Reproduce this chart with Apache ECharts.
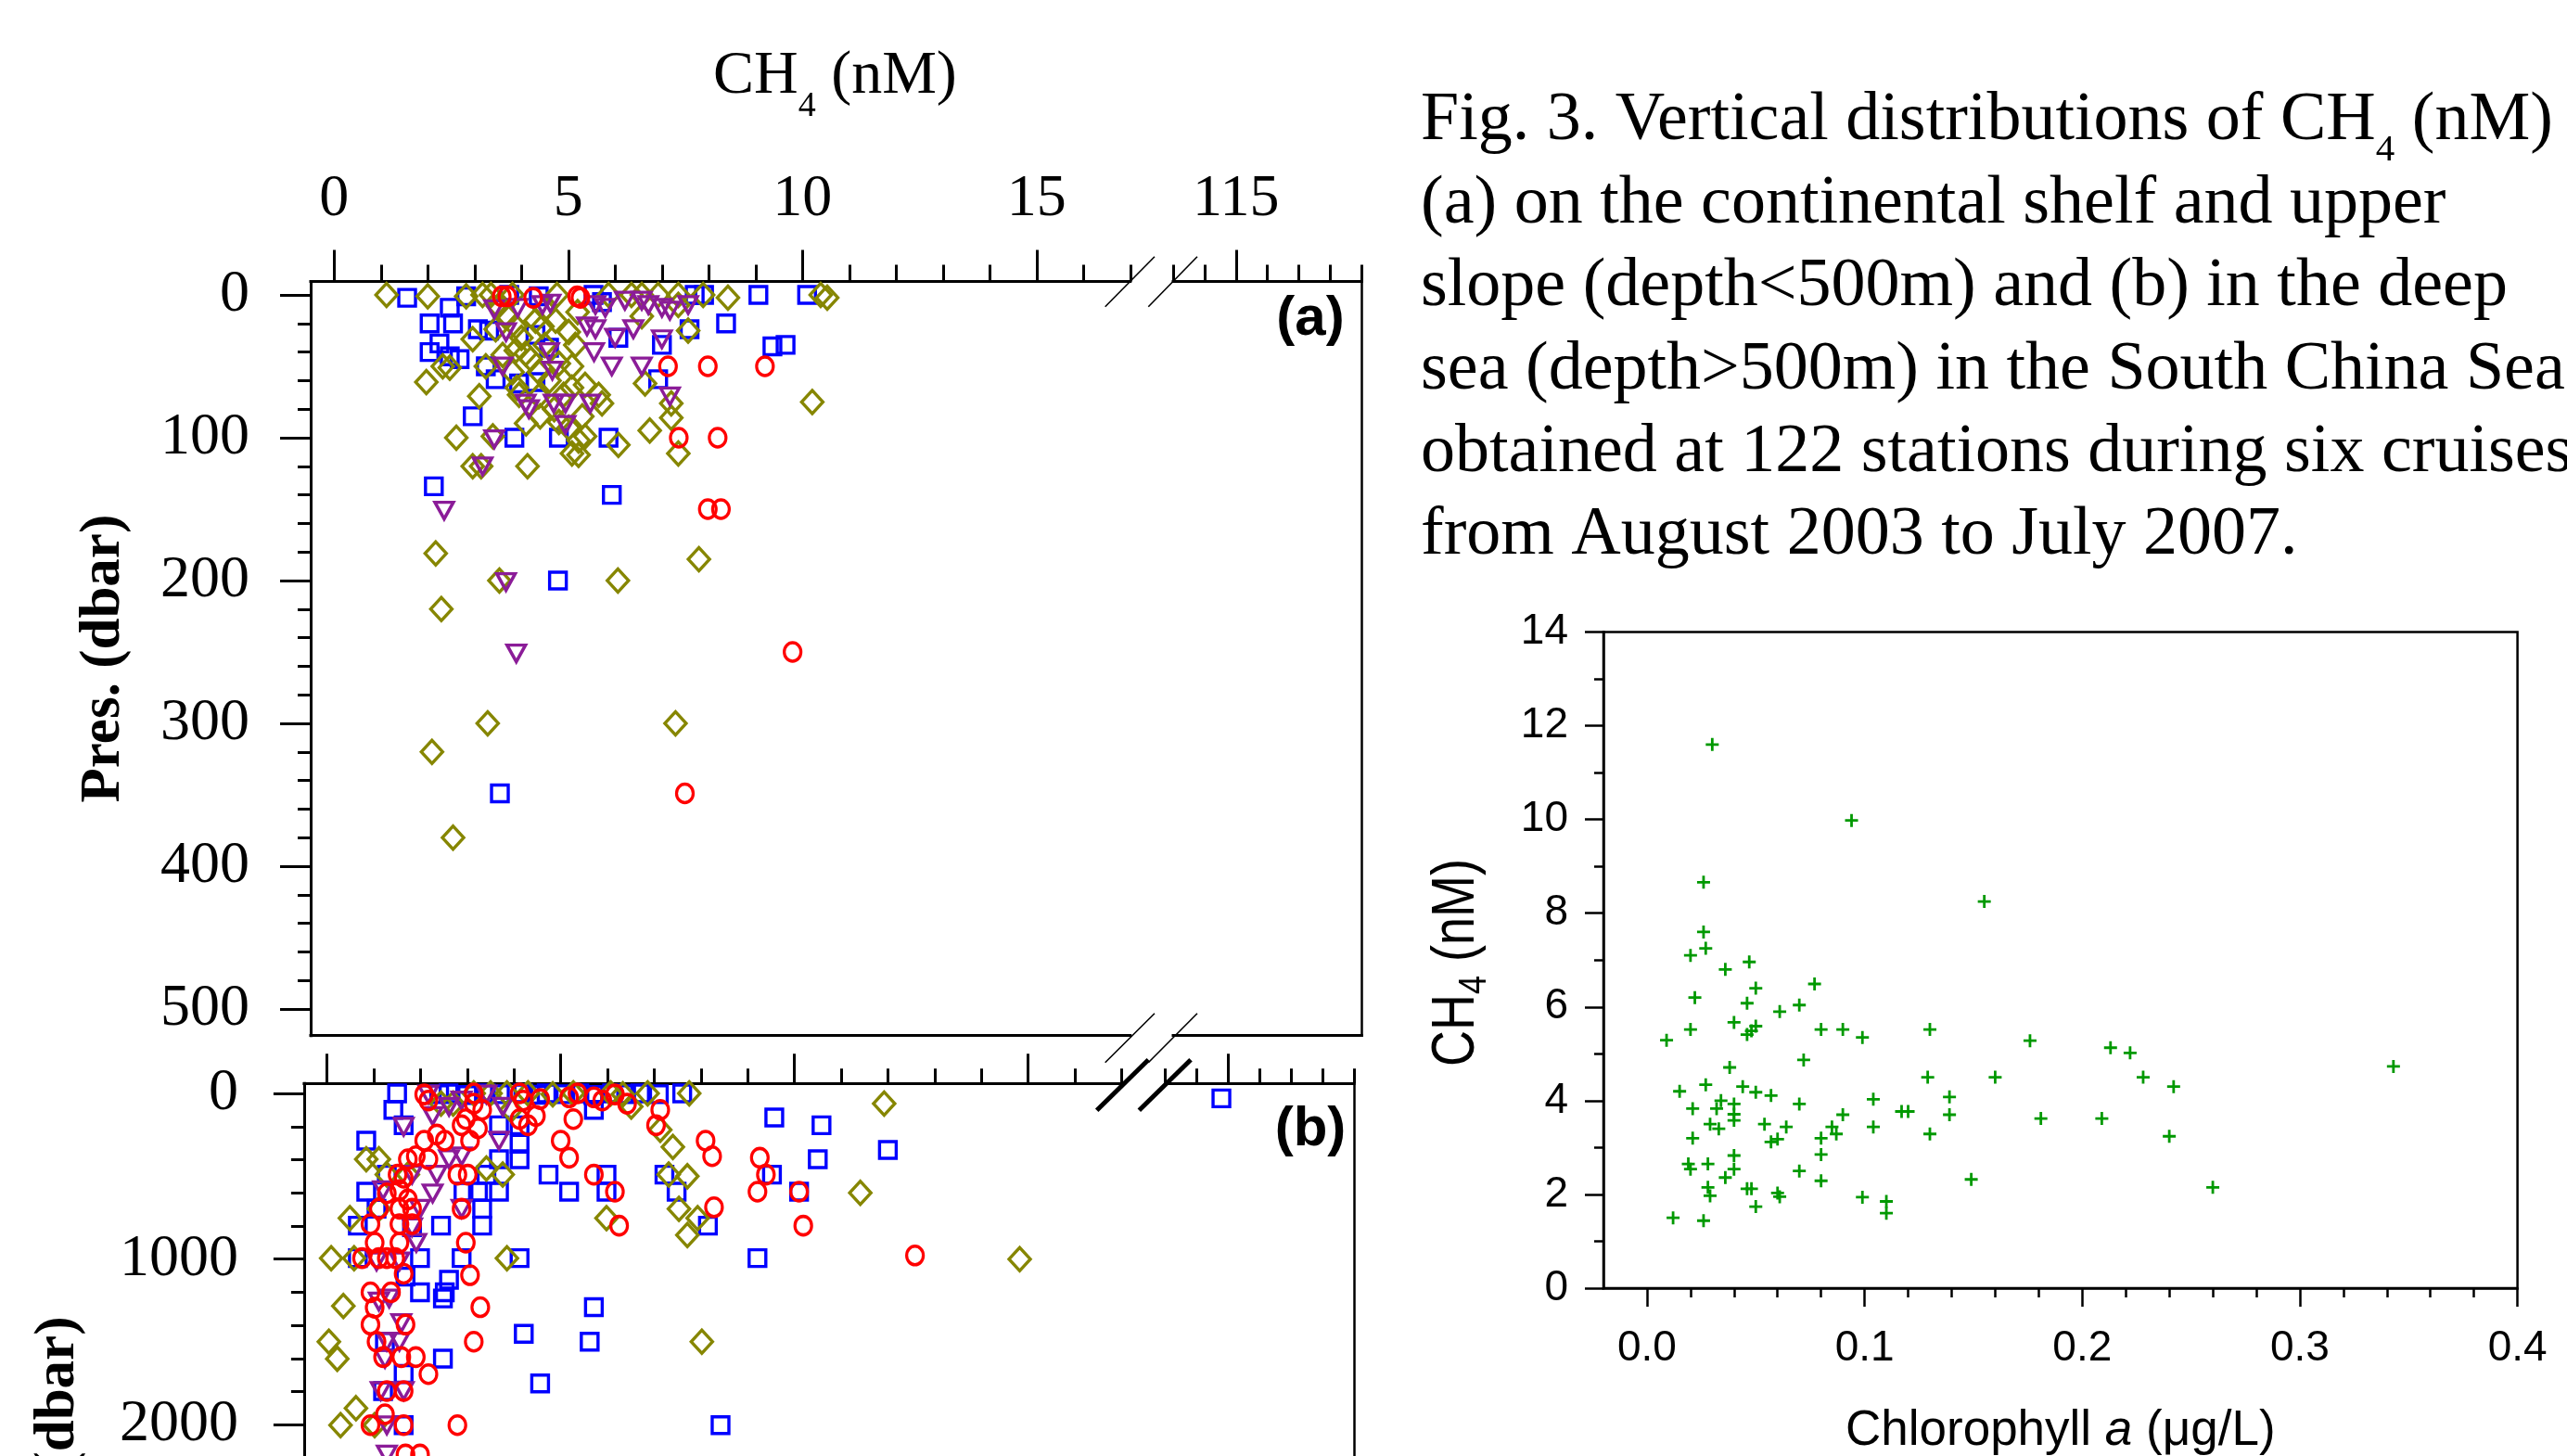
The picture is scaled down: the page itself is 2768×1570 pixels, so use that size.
<!DOCTYPE html>
<html><head><meta charset="utf-8">
<script src="https://cdn.jsdelivr.net/npm/echarts@6/dist/echarts.min.js"></script>
<style>html,body{margin:0;padding:0;background:#fff}#c{width:2768px;height:1570px}</style>
</head><body><div id="c"></div>
<script>
// ================= DATA =================
// shared top axis (CH4, nM) ticks, broken axis
const chXMajor = [0, 5, 10, 15];
const chXMinor = [1, 2, 3, 4, 6, 7, 8, 9, 11, 12, 13, 14, 16, 17];
const chXBrkMajor = [115];
const chXBrkMinor = [113, 114, 116, 117, 118, 119];
// pressure ticks
const aYMajor = [0, 100, 200, 300, 400, 500];
const aYMinor = [20, 40, 60, 80, 120, 140, 160, 180, 220, 240, 260, 280, 320, 340, 360, 380, 420, 440, 460, 480];
const bYMajor = [0, 1000, 2000, 3000, 4000];
const bYMinor = [200, 400, 600, 800, 1200, 1400, 1600, 1800, 2200, 2400, 2600, 2800, 3200, 3400, 3600, 3800, 4200, 4400];
// chlorophyll panel ticks
const chlXMajor = [0, 0.1, 0.2, 0.3, 0.4];
const chlXMinor = [0.02, 0.04, 0.06, 0.08, 0.12, 0.14, 0.16, 0.18, 0.22, 0.24, 0.26, 0.28, 0.32, 0.34, 0.36, 0.38];
const chlYMajor = [0, 2, 4, 6, 8, 10, 12, 14];
const chlYMinor = [1, 3, 5, 7, 9, 11, 13];

// panel (a): [CH4 nM, pressure dbar]
const aSquares = [[1.56,2],[2.47,9],[2.04,20],[2.54,20],[2.25,34],[2.04,40],[2.47,43],[2.68,45],[3.24,50],[3.07,24],[2.82,1],[3.45,59],[3.95,62],[4.3,61],[2.96,85],[3.85,100],[4.8,100],[5.86,100],[2.13,134],[5.93,140],[4.37,1],[5.54,0],[6.07,30],[7.0,35],[6.92,59],[7.7,0],[7.59,24],[8.37,20],[9.06,0],[9.36,36],[9.64,35],[10.1,0],[3.74,0],[4.59,37],[5.72,5],[7.9,0],[4.3,28],[3.31,25],[4.78,200],[3.54,349]];
const aDiamonds = [[1.12,0],[2.0,1],[2.82,1],[3.17,0],[3.35,0],[3.81,0],[4.76,0],[5.86,0],[6.35,0],[6.57,0],[6.92,0],[7.35,0],[7.88,0],[8.41,2],[10.39,0],[10.53,2],[2.96,31],[3.45,24],[3.88,22],[4.3,18],[4.45,22],[4.73,18],[5.01,26],[5.15,35],[3.88,39],[4.09,41],[3.6,42],[4.8,48],[5.08,50],[2.32,50],[2.47,51],[3.24,50],[3.81,54],[4.37,54],[1.97,61],[3.1,71],[3.95,70],[4.37,71],[5.08,65],[5.36,63],[5.65,70],[5.72,76],[6.64,62],[7.2,76],[7.2,86],[7.56,25],[10.21,75],[4.8,89],[5.01,93],[2.61,100],[3.39,99],[5.22,102],[5.36,99],[6.07,105],[6.74,95],[7.35,111],[5.08,111],[5.22,112],[2.96,120],[3.14,120],[4.13,120],[6.57,15],[7.35,7],[4.0,30],[4.5,35],[4.2,45],[4.6,60],[3.9,65],[4.4,85],[4.7,80],[4.1,90],[5.3,85],[4.9,70],[3.7,15],[5.2,12],[4.5,10],[3.5,8],[2.17,181],[7.79,185],[3.53,200],[6.06,200],[2.29,220],[3.28,300],[7.29,300],[2.09,320],[2.54,380]];
const aTriangles = [[3.42,10],[3.92,9],[4.45,7],[4.62,6],[5.58,7],[5.79,9],[6.21,4],[6.57,4],[6.71,7],[7.0,9],[7.17,11],[7.56,7],[3.67,26],[5.4,22],[5.58,24],[6.39,24],[6.0,30],[7.0,31],[4.59,40],[5.55,40],[3.6,50],[4.66,53],[5.93,50],[6.57,50],[7.17,71],[4.09,76],[4.16,80],[4.69,76],[4.94,76],[5.47,76],[4.94,91],[3.42,101],[3.17,120],[2.35,151],[3.67,201],[3.89,251]];
const aCircles = [[3.58,1],[3.7,1],[4.25,2],[5.19,1],[5.26,2],[7.13,50],[7.98,50],[9.2,50],[7.36,100],[8.19,100],[7.98,150],[8.26,150],[9.79,250],[7.49,349]];

// panel (b): [CH4 nM, pressure dbar]
const bSquares = [[1.5,0],[2.4,5],[2.6,0],[3.0,10],[3.4,0],[3.7,5],[4.2,0],[4.5,8],[4.7,0],[5.1,5],[5.4,0],[5.7,10],[6.1,0],[6.4,5],[6.7,0],[7.1,5],[7.6,0],[1.42,99],[1.64,192],[0.84,285],[3.68,192],[4.12,304],[4.12,397],[4.74,490],[5.18,593],[5.71,99],[5.98,593],[5.98,490],[7.22,490],[7.48,593],[9.57,145],[10.58,192],[10.5,397],[12.0,341],[9.52,490],[10.1,593],[8.15,798],[9.21,994],[4.12,994],[2.88,994],[0.66,994],[0.84,593],[0.66,798],[1.82,808],[2.44,798],[3.32,798],[1.99,994],[1.68,1106],[2.61,1125],[2.52,1200],[3.32,696],[2.92,593],[3.23,593],[3.68,593],[3.41,490],[3.68,397],[4.12,192],[5.71,1290],[1.99,1200],[1.28,490],[1.06,696],[4.21,1451],[5.62,1498],[2.48,1600],[4.56,1750],[8.42,2002],[1.64,1693],[1.2,1796],[1.24,1498],[1.64,2002],[2.48,1237]];
const bSquaresBrk = [[114.78,30]];
const bDiamonds = [[3.14,0],[3.5,0],[3.85,0],[4.3,0],[4.83,6],[5.27,0],[6.07,0],[6.33,6],[6.86,0],[7.75,0],[11.92,62],[6.51,80],[7.13,220],[7.4,323],[0.84,397],[1.11,397],[1.28,490],[1.73,490],[3.41,453],[3.76,490],[7.31,490],[7.71,500],[11.41,600],[0.49,752],[1.11,696],[5.98,752],[7.53,696],[7.93,752],[7.71,854],[0.09,994],[0.58,994],[3.85,994],[14.82,1000],[0.35,1283],[2.44,62],[2.7,62],[3.94,99],[0.04,1498],[0.22,1601],[8.02,1498],[0.62,1899],[0.29,2002],[1.02,2002]];
const bTriangles = [[2.17,6],[2.61,80],[2.88,43],[3.41,6],[3.76,80],[1.64,201],[2.26,136],[3.68,285],[2.61,397],[2.88,379],[1.82,490],[2.35,490],[1.2,584],[2.26,603],[1.99,696],[1.82,808],[2.88,696],[1.91,901],[1.06,1013],[1.55,1013],[1.33,1237],[1.11,1256],[1.59,1386],[1.28,1498],[1.55,1498],[1.24,1601],[1.64,1796],[1.15,1796],[1.28,2002],[1.28,2179]];
const bCircles = [[2.08,6],[2.17,43],[3.14,0],[3.14,62],[3.32,99],[4.12,0],[4.2,43],[4.56,34],[5.18,24],[5.36,0],[5.71,24],[5.89,43],[6.16,6],[6.42,62],[7.13,99],[7.04,192],[5.0,285],[5.18,388],[4.12,155],[4.3,192],[4.47,136],[5.27,155],[2.97,155],[2.88,192],[3.23,211],[3.06,285],[2.52,285],[2.08,285],[2.35,248],[1.9,379],[1.73,397],[2.17,397],[1.51,490],[1.64,509],[2.79,490],[3.01,490],[1.28,603],[1.55,584],[1.73,640],[1.11,696],[1.55,696],[1.82,696],[2.88,696],[0.93,789],[1.55,789],[1.82,789],[1.02,901],[1.55,901],[2.97,901],[0.75,994],[1.11,994],[1.28,994],[1.46,994],[1.64,1088],[3.06,1097],[0.93,1200],[1.37,1200],[1.02,1293],[3.28,1290],[5.71,490],[6.16,593],[6.25,798],[8.1,285],[8.24,379],[9.26,388],[9.39,490],[9.21,593],[10.1,593],[10.19,798],[8.28,687],[12.58,978],[0.93,1395],[1.68,1395],[1.06,1498],[3.14,1498],[1.2,1591],[1.59,1591],[1.9,1591],[2.17,1694],[1.28,1796],[1.64,1796],[1.24,1936],[0.93,2002],[1.64,2002],[2.79,2002],[1.68,2179],[1.99,2179]];

// right panel: [Chlorophyll a (ug/L), CH4 (nM)]
const chlCH4 = [[0.030,11.6],[0.094,9.98],[0.026,8.66],[0.155,8.25],[0.026,7.6],[0.027,7.25],[0.020,7.1],[0.047,6.96],[0.036,6.8],[0.077,6.49],[0.050,6.40],[0.022,6.2],[0.046,6.08],[0.070,6.04],[0.061,5.9],[0.040,5.67],[0.050,5.59],[0.020,5.52],[0.080,5.52],[0.090,5.52],[0.130,5.52],[0.048,5.49],[0.046,5.41],[0.099,5.35],[0.009,5.29],[0.176,5.28],[0.213,5.13],[0.222,5.02],[0.072,4.87],[0.343,4.73],[0.038,4.71],[0.129,4.50],[0.160,4.50],[0.228,4.50],[0.027,4.34],[0.044,4.30],[0.242,4.30],[0.015,4.20],[0.050,4.18],[0.057,4.11],[0.139,4.08],[0.104,4.03],[0.034,4.00],[0.070,3.93],[0.040,3.93],[0.021,3.83],[0.032,3.83],[0.117,3.77],[0.120,3.77],[0.040,3.71],[0.090,3.70],[0.139,3.70],[0.181,3.62],[0.209,3.62],[0.040,3.58],[0.054,3.50],[0.029,3.50],[0.064,3.44],[0.104,3.44],[0.033,3.40],[0.085,3.44],[0.087,3.29],[0.130,3.29],[0.240,3.24],[0.021,3.20],[0.080,3.20],[0.057,3.12],[0.060,3.18],[0.080,2.85],[0.040,2.83],[0.028,2.65],[0.019,2.65],[0.020,2.54],[0.070,2.50],[0.040,2.54],[0.036,2.36],[0.149,2.32],[0.080,2.29],[0.028,2.15],[0.046,2.12],[0.048,2.12],[0.260,2.15],[0.060,2.03],[0.029,1.97],[0.061,1.95],[0.099,1.94],[0.110,1.85],[0.050,1.74],[0.110,1.60],[0.012,1.50],[0.026,1.44]];

const captionLines = [
  'Fig. 3. Vertical distributions of CH|4| (nM)',
  '(a) on the continental shelf and upper',
  'slope (depth<500m) and (b) in the deep',
  'sea (depth>500m) in the South China Sea',
  'obtained at 122 stations during six cruises',
  'from August 2003 to July 2007.'
];

// ================= STYLE / LAYOUT =================
const SERIF = '"Liberation Serif","Times New Roman",serif';
const SANS = '"Liberation Sans",Arial,Helvetica,sans-serif';
const K = '#000';
const C_SQ = '#0000FF', C_CI = '#FF0000', C_DI = '#868600', C_TR = '#8B1C98', C_GR = '#009900';

const GA1 = {left: 335, top: 303.5, width: 883.75, height: 813.2};
const GA2 = {left: 1265, top: 303.5, width: 203.3, height: 813.2};
const GB1 = {left: 327.9, top: 1168.3, width: 881.5, height: 813.1};
const GB2 = {left: 1256.7, top: 1168.3, width: 203.4, height: 813.1};
const GR = {left: 1729, top: 681.5, width: 985.6, height: 707.5};

function grid(g, extra) {
  return Object.assign({left: g.left, top: g.top, width: g.width, height: g.height,
    containLabel: false, outerBoundsMode: 'none', show: false}, extra || {});
}
function ax(o) {
  const base = {type: 'value', splitLine: {show: false}, axisLine: {show: false, onZero: false},
    axisTick: {show: false}, axisLabel: {show: false}, nameMoveOverlap: false};
  return Object.assign(base, o);
}
function line(w) { return {show: true, onZero: false, lineStyle: {color: K, width: w, cap: 'square'}}; }
function ticks(vals, len, w) { return {show: true, inside: false, length: len, customValues: vals, lineStyle: {color: K, width: w}}; }
function serifLabels(vals, margin) {
  return {show: true, customValues: vals, margin: margin, fontSize: 64, fontFamily: SERIF, color: K,
    formatter: v => String(v)};
}

const xAxes = [
  // 0 A1 major (top)
  ax({gridIndex: 0, position: 'top', min: -0.5, max: 17, axisLine: line(3),
      axisTick: ticks(chXMajor, 34, 3), axisLabel: serifLabels(chXMajor, 56)}),
  // 1 A1 minor
  ax({gridIndex: 0, position: 'top', min: -0.5, max: 17, axisTick: ticks(chXMinor, 18, 3)}),
  // 2 A1 bottom frame
  ax({gridIndex: 0, position: 'bottom', min: -0.5, max: 17, axisLine: line(3)}),
  // 3 A2 major
  ax({gridIndex: 1, position: 'top', min: 113, max: 119, axisLine: line(3),
      axisTick: ticks(chXBrkMajor, 34, 3), axisLabel: serifLabels(chXBrkMajor, 56)}),
  // 4 A2 minor
  ax({gridIndex: 1, position: 'top', min: 113, max: 119, axisTick: ticks(chXBrkMinor, 18, 3)}),
  // 5 A2 bottom frame
  ax({gridIndex: 1, position: 'bottom', min: 113, max: 119, axisLine: line(3)}),
  // 6 B1 major
  ax({gridIndex: 2, position: 'top', min: -0.49, max: 17, axisLine: line(3), axisTick: ticks(chXMajor, 32, 3)}),
  // 7 B1 minor
  ax({gridIndex: 2, position: 'top', min: -0.49, max: 17, axisTick: ticks(chXMinor, 16, 3)}),
  // 8 B2 major
  ax({gridIndex: 3, position: 'top', min: 113, max: 119, axisLine: line(3), axisTick: ticks(chXBrkMajor, 32, 3)}),
  // 9 B2 minor
  ax({gridIndex: 3, position: 'top', min: 113, max: 119, axisTick: ticks(chXBrkMinor, 16, 3)}),
  // 10 R major
  ax({gridIndex: 4, position: 'bottom', min: -0.02, max: 0.4, axisLine: line(2.5),
      axisTick: ticks(chlXMajor, 20, 2.5),
      axisLabel: {show: true, customValues: chlXMajor, margin: 42, fontSize: 46, fontFamily: SANS, color: K,
        formatter: v => Number(v).toFixed(1)},
      name: 'Chlorophyll {i|a} (\u03BCg/L)', nameLocation: 'middle', nameGap: 128,
      nameTextStyle: {fontSize: 53, fontFamily: SANS, color: K,
        rich: {i: {fontSize: 53, fontFamily: SANS, fontStyle: 'italic', color: K}}}}),
  // 11 R minor
  ax({gridIndex: 4, position: 'bottom', min: -0.02, max: 0.4, axisTick: ticks(chlXMinor, 10, 2.5)})
];

const presName = {fontSize: 61, fontFamily: SERIF, fontWeight: 'bold', color: K};
const yAxes = [
  // 0 A1 major
  ax({gridIndex: 0, position: 'left', inverse: true, min: -9.42, max: 518.6, axisLine: line(3),
      axisTick: ticks(aYMajor, 33, 3), axisLabel: serifLabels(aYMajor, 66),
      name: 'Pres. (dbar)', nameLocation: 'middle', nameRotate: 90, nameGap: 192, nameTextStyle: presName}),
  // 1 A1 minor
  ax({gridIndex: 0, position: 'left', inverse: true, min: -9.42, max: 518.6, axisTick: ticks(aYMinor, 14, 3)}),
  // 2 A2 right frame
  ax({gridIndex: 1, position: 'right', inverse: true, min: -9.42, max: 518.6, axisLine: line(2.5)}),
  // 3 B1 major
  ax({gridIndex: 2, position: 'left', inverse: true, min: -60, max: 4490, axisLine: line(3),
      axisTick: ticks(bYMajor, 33, 3), axisLabel: serifLabels(bYMajor, 71),
      name: 'Pres. (dbar)', nameLocation: 'middle', nameRotate: 90, nameGap: 234, nameTextStyle: presName}),
  // 4 B1 minor
  ax({gridIndex: 2, position: 'left', inverse: true, min: -60, max: 4490, axisTick: ticks(bYMinor, 14, 3)}),
  // 5 B2 right frame
  ax({gridIndex: 3, position: 'right', inverse: true, min: -60, max: 4490, axisLine: line(2.5)}),
  // 6 R major
  ax({gridIndex: 4, position: 'left', min: 0, max: 14, axisLine: line(2.5),
      axisTick: ticks(chlYMajor, 20, 2.5),
      axisLabel: {show: true, customValues: chlYMajor, margin: 38, fontSize: 46, fontFamily: SANS, color: K,
        formatter: v => String(v)}}),
  // 7 R minor
  ax({gridIndex: 4, position: 'left', min: 0, max: 14, axisTick: ticks(chlYMinor, 10, 2.5)})
];

function hollow(data, xi, yi, symbol, size, color, extra) {
  return Object.assign({type: 'scatter', xAxisIndex: xi, yAxisIndex: yi, data: data, symbol: symbol,
    symbolSize: size, silent: true, clip: false, animation: false,
    itemStyle: {color: 'rgba(0,0,0,0)', borderColor: color, borderWidth: 3.4, opacity: 1},
    emphasis: {disabled: true}}, extra || {});
}
const series = [
  hollow(aSquares, 0, 0, 'rect', 18, C_SQ),
  hollow(aDiamonds, 0, 0, 'diamond', [23, 25], C_DI),
  hollow(aTriangles, 0, 0, 'triangle', [20, 18], C_TR, {symbolRotate: 180}),
  hollow(aCircles, 0, 0, 'circle', [18, 20], C_CI),
  hollow(bSquares, 6, 3, 'rect', 18, C_SQ),
  hollow(bSquaresBrk, 8, 5, 'rect', 18, C_SQ),
  hollow(bDiamonds, 6, 3, 'diamond', [23, 25], C_DI),
  hollow(bTriangles, 6, 3, 'triangle', [20, 18], C_TR, {symbolRotate: 180}),
  hollow(bCircles, 6, 3, 'circle', [18, 20], C_CI),
  {type: 'scatter', xAxisIndex: 10, yAxisIndex: 6, data: chlCH4, silent: true, animation: false,
   symbol: 'path://M4,0H6V4H10V6H6V10H4V6H0V4H4Z', symbolSize: 14,
   itemStyle: {color: C_GR, opacity: 1}, emphasis: {disabled: true}}
];

// ---------- text helpers (measure with the same fonts) ----------
const mctx = document.createElement('canvas').getContext('2d');
function tw(t, font) { mctx.font = font; return mctx.measureText(t).width; }
function runs(parts, x0) {
  let x = x0; const out = [];
  parts.forEach(p => {
    out.push({type: 'text', x: x, y: p.y, silent: true,
      style: {text: p.t, font: p.font, fill: K, textAlign: 'left', textVerticalAlign: 'middle'}});
    x += tw(p.t, p.font);
  });
  return out;
}
const graphics = [];
// break marks
[[1191.7, 330.7, 1245, 276.7], [1238.3, 330.7, 1291, 276.7],
 [1191.7, 1145.7, 1245, 1092.7], [1238.3, 1145.7, 1291, 1092.7]].forEach(s => {
  graphics.push({type: 'line', silent: true, shape: {x1: s[0], y1: s[1], x2: s[2], y2: s[3]}, style: {stroke: K, lineWidth: 1.6}});
});
[[1182.7, 1197.3, 1238.3, 1142.7], [1228.3, 1197.3, 1284, 1142.7]].forEach(s => {
  graphics.push({type: 'line', silent: true, shape: {x1: s[0], y1: s[1], x2: s[2], y2: s[3]}, style: {stroke: K, lineWidth: 5}});
});
// panel tags
graphics.push({type: 'text', x: 1413, y: 344, silent: true, style: {text: '(a)', font: 'bold 60px ' + SANS, fill: K, textAlign: 'center', textVerticalAlign: 'middle'}});
graphics.push({type: 'text', x: 1413, y: 1218, silent: true, style: {text: '(b)', font: 'bold 60px ' + SANS, fill: K, textAlign: 'center', textVerticalAlign: 'middle'}});
// top axis title CH4 (nM)
const tF = '66px ' + SERIF, tS = '38px ' + SERIF;
runs([{t: 'CH', font: tF, y: 83}, {t: '4', font: tS, y: 115}, {t: ' (nM)', font: tF, y: 83}], 769).forEach(e => graphics.push(e));
// caption
const cF = '74px ' + SERIF, cS = '41px ' + SERIF;
captionLines.forEach((ln, i) => {
  const y = 131 + i * 89.4;
  const segs = ln.split('|');
  const parts = segs.map((s, j) => ({t: s, font: j % 2 ? cS : cF, y: j % 2 ? y + 31 : y}));
  runs(parts, 1532).forEach(e => graphics.push(e));
});
// right panel y title (rotated)
const rF = '54px ' + SANS, rS = '36px ' + SANS;
graphics.push({type: 'group', x: 1571, y: 1150, rotation: Math.PI / 2, scaleY: 1.2, silent: true,
  children: runs([{t: 'CH', font: rF, y: 0}, {t: '4', font: rS, y: 16}, {t: ' (nM)', font: rF, y: 0}], 0)});

const option = {
  backgroundColor: '#ffffff',
  animation: false,
  grid: [grid(GA1), grid(GA2), grid(GB1), grid(GB2),
         grid(GR, {show: true, borderColor: K, borderWidth: 2.5, backgroundColor: 'transparent'})],
  xAxis: xAxes,
  yAxis: yAxes,
  series: series,
  graphic: {elements: graphics}
};
const chart = echarts.init(document.getElementById('c'), null, {renderer: 'canvas', width: 2768, height: 1570});
chart.setOption(option);
</script></body></html>
